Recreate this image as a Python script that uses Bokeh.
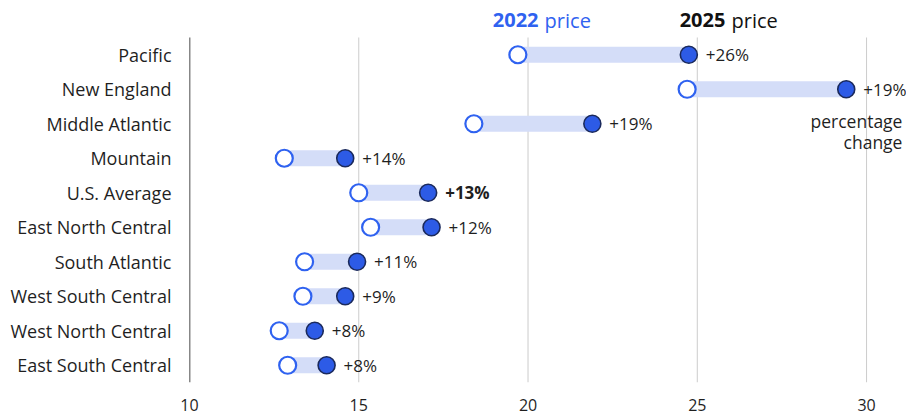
from bokeh.plotting import figure
from bokeh.models import Range1d, FixedTicker, ColumnDataSource
from bokeh.core.properties import value
from bokeh.embed import file_html
from bokeh.resources import INLINE

regions = ["Pacific", "New England", "Middle Atlantic", "Mountain", "U.S. Average",
           "East North Central", "South Atlantic", "West South Central",
           "West North Central", "East South Central"]
price_2022 = [19.7, 24.7, 18.4, 12.8, 15.0, 15.35, 13.4, 13.35, 12.65, 12.9]
price_2025 = [24.75, 29.4, 21.9, 14.6, 17.05, 17.15, 14.95, 14.6, 13.7, 14.05]
pct_labels = ["+26%", "+19%", "+19%", "+14%", "+13%", "+12%", "+11%", "+9%", "+8%", "+8%"]
x_ticks = [10, 15, 20, 25, 30]
grid_ticks = [15, 20, 25, 30]

FONT = "Open Sans"
TXT = "#1f1f1f"
BLUE = "#2f62f0"
FILL = "#2d5be6"
DARK = "#1b2a5c"
BAND = "#d4ddf8"

n = len(regions)
ypos = list(range(n))
src = ColumnDataSource(dict(y=ypos, a=price_2022, b=price_2025, lbl=pct_labels,
                            w=["bold" if r == "U.S. Average" else "normal" for r in regions]))

p = figure(width=906, height=414, output_backend="svg", toolbar_location=None,
           x_range=Range1d(10, 31.18), y_range=Range1d(n - 0.5, -1.572),
           min_border_left=189, min_border_right=0, min_border_top=0, min_border_bottom=32)
p.outline_line_color = None
p.background_fill_color = "white"

# axes
p.xaxis.ticker = FixedTicker(ticks=x_ticks)
p.xaxis.axis_line_color = None
p.xaxis.major_tick_line_color = None
p.xaxis.minor_tick_line_color = None
p.xaxis.major_label_text_font = FONT
p.xaxis.major_label_text_font_size = "16px"
p.xaxis.major_label_text_color = TXT
p.xaxis.major_label_standoff = 10

p.yaxis.ticker = FixedTicker(ticks=ypos)
p.yaxis.major_label_overrides = {i: r for i, r in enumerate(regions)}
p.yaxis.axis_line_color = None
p.yaxis.major_tick_line_color = None
p.yaxis.minor_tick_line_color = None
p.yaxis.major_label_text_font = FONT
p.yaxis.major_label_text_font_size = "18px"
p.yaxis.major_label_text_color = TXT
p.yaxis.major_label_standoff = 12

p.xgrid.grid_line_color = None
p.ygrid.grid_line_color = None

# gridlines and the left axis line, spanning the rows only
p.segment(x0=grid_ticks, x1=grid_ticks, y0=[-0.5] * len(grid_ticks), y1=[n - 0.5] * len(grid_ticks),
          line_color="#cccccc", line_width=1)
p.segment(x0=[x_ticks[0]], x1=[x_ticks[0]], y0=[-0.5], y1=[n - 0.5], line_color="#111111", line_width=1.5)

# bands
p.hbar(y="y", left="a", right="b", height=0.46, source=src, fill_color=BAND, line_color=None)
# circles
p.scatter(x="a", y="y", source=src, size=17, fill_color="white", line_color=BLUE, line_width=2.2)
p.scatter(x="b", y="y", source=src, size=17, fill_color=FILL, line_color=DARK, line_width=1.6)
# percentage labels
p.text(x="b", y="y", text="lbl", source=src, x_offset=17, text_baseline="middle",
       text_align="left", text_font=value(FONT), text_font_size="17px", text_color=TXT,
       text_font_style="w")

p.text(x=[31.06, 31.06], y=[1.93, 2.54], text=["percentage", "change"], text_align="right",
       text_baseline="middle", text_font=value(FONT), text_font_size="17.5px", text_color=TXT)

# legend headers
p.text(x=[20.31, 25.83], y=[-0.993, -0.993], text=["2022", "2025"], text_color=[BLUE, "#111111"],
       text_font=value(FONT), text_font_size="20px", text_font_style="bold",
       text_baseline="middle", text_align="right")
p.text(x=[20.49, 26.01], y=[-0.993, -0.993], text=["price", "price"], text_color=[BLUE, "#111111"],
       text_font=value(FONT), text_font_size="20px",
       text_baseline="middle", text_align="left")

open("out.html", "w").write(file_html(p, INLINE))
